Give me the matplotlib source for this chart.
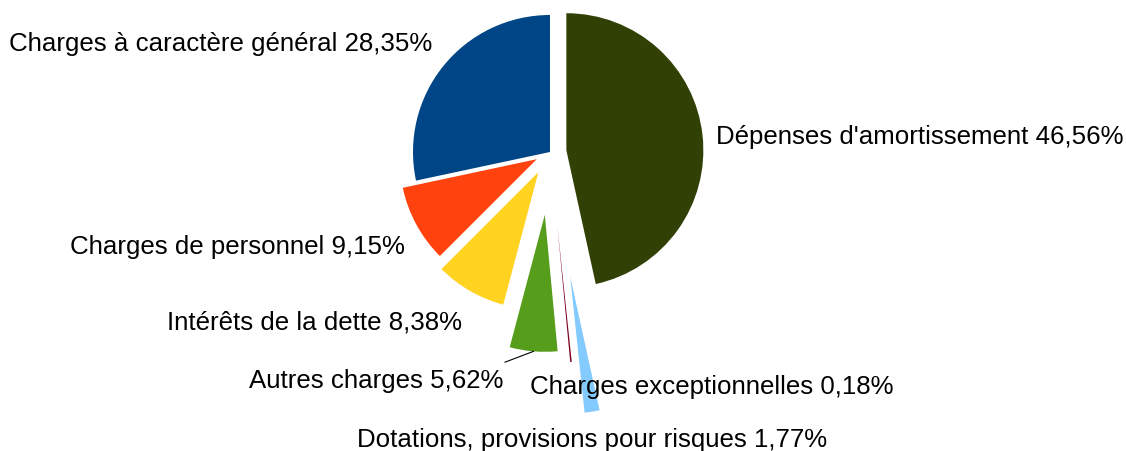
import matplotlib
matplotlib.use('Agg')
import matplotlib.pyplot as plt
import numpy as np

# Données (ordre horaire depuis midi)
labels = [
    "Dépenses d'amortissement",
    "Dotations, provisions pour risques",
    "Charges exceptionnelles",
    "Autres charges",
    "Intérêts de la dette",
    "Charges de personnel",
    "Charges à caractère général",
]
values = [46.56, 1.77, 0.18, 5.62, 8.38, 9.15, 28.35]
colors = ["#314004", "#83caff", "#7e0021", "#579d1c", "#ffd320", "#ff420e", "#004586"]
explode = [0.12, 0.92, 0.54, 0.46, 0.17, 0.11, 0.0]

# Position des étiquettes (coordonnées du graphique, rayon = 1)
label_pos = [
    (1.212, 0.117, "left"),
    (0.310, -2.095, "center"),
    (-0.146, -1.708, "left"),
    (-0.343, -1.664, "right"),
    (-0.642, -1.234, "right"),
    (-1.058, -0.686, "right"),
    (-0.861, 0.796, "right"),
]

plt.rcParams['font.family'] = ['Liberation Sans', 'DejaVu Sans']

fig = plt.figure(figsize=(11.26, 4.52), dpi=100)
ax = fig.add_axes([0, 0, 1, 1])

cx, cy, r = 550, 153, 137  # centre et rayon en pixels

wedges, _ = ax.pie(values, colors=colors, explode=explode, startangle=90,
                   counterclock=False, radius=1, center=(0, 0), frame=True,
                   wedgeprops=dict(linewidth=0))
ax.set_xlim(-cx / r, (1126 - cx) / r)
ax.set_ylim(-(452 - cy) / r, cy / r)
ax.set_aspect('auto')
ax.axis('off')

for lab, v, (x, y, ha) in zip(labels, values, label_pos):
    txt = f"{lab} {v:.2f}%".replace('.', ',')
    ax.text(x, y, txt, ha=ha, va='center', fontsize=18.6, color='black')

# Ligne de rappel pour "Autres charges"
w = wedges[3]
mid = np.deg2rad((w.theta1 + w.theta2) / 2)
ox, oy = w.center
ax.plot([ox + np.cos(mid), label_pos[3][0] + 0.015], [oy + np.sin(mid), label_pos[3][1] + 0.13],
        color='black', linewidth=0.8)

fig.savefig('out.png', dpi=100, facecolor='white')
